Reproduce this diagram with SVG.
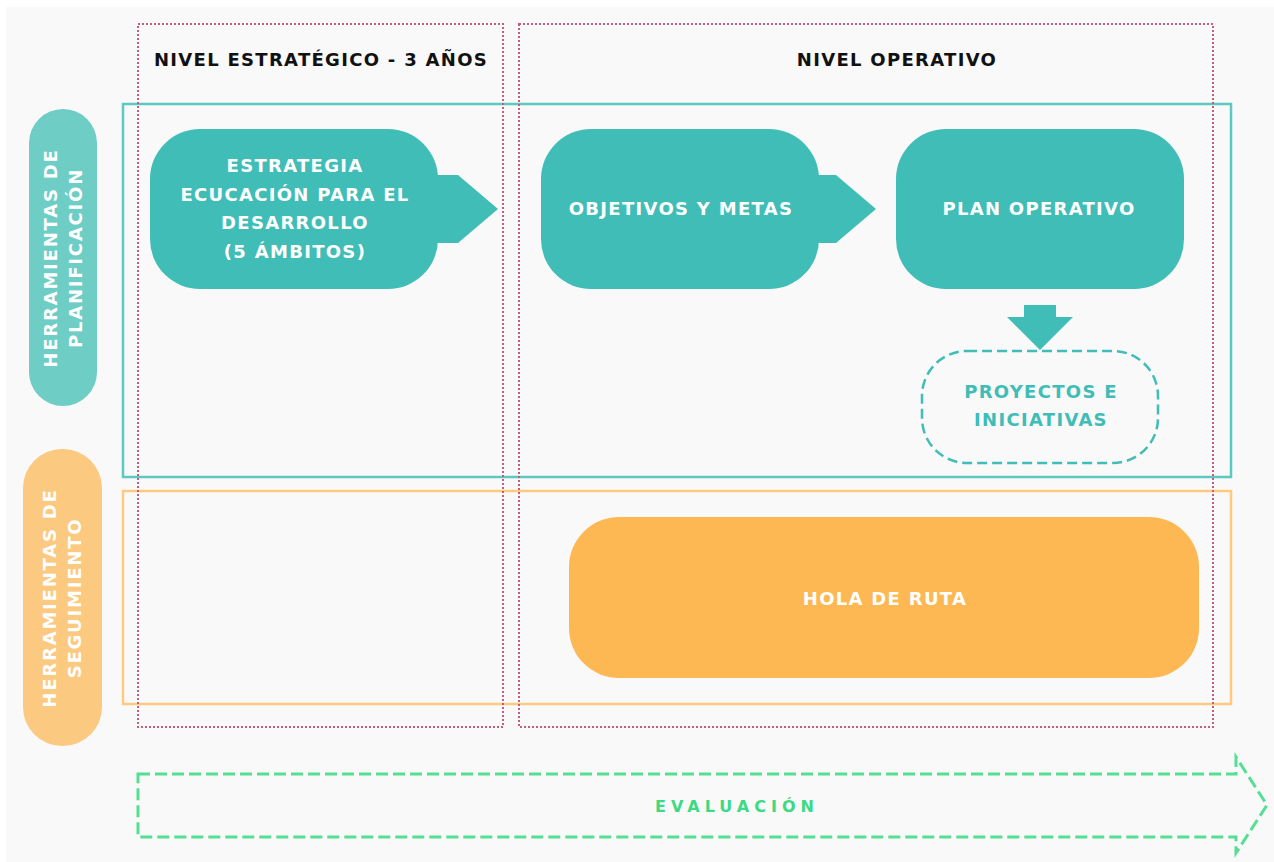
<svg xmlns="http://www.w3.org/2000/svg" width="1274" height="862" viewBox="0 0 1274 862">
<style>
.hdr{font-family:"DejaVu Sans","Liberation Sans",sans-serif;font-weight:700;font-size:18px;fill:#111;text-anchor:middle;letter-spacing:1.3px}
.wt{font-family:"DejaVu Sans","Liberation Sans",sans-serif;font-weight:700;font-size:18px;fill:#ffffff;text-anchor:middle;letter-spacing:1.3px}
.pt{font-family:"DejaVu Sans","Liberation Sans",sans-serif;font-weight:700;font-size:18px;fill:#ffffff;text-anchor:middle;letter-spacing:1.8px}
.teal{fill:#40bdb7}
.dot{fill:none;stroke:#c25f7c;stroke-width:2;stroke-dasharray:2 2}
</style>
<rect x="0" y="0" width="1274" height="862" fill="#ffffff"/>
<rect x="6" y="7" width="1268" height="855" fill="#f9f9f9"/>

<g id="frames">
<rect x="123" y="104" width="1108" height="373" fill="none" stroke="#5ec9c1" stroke-width="2.5"/>
<rect x="123" y="491" width="1108" height="213" fill="none" stroke="#fdca80" stroke-width="2.5"/>
<rect class="dot" x="138" y="24" width="365" height="703"/>
<rect class="dot" x="519" y="24" width="694" height="703"/>
</g>

<g id="headers">
<text class="hdr" x="321" y="66">NIVEL ESTRATÉGICO - 3 AÑOS</text>
<text class="hdr" x="897" y="66">NIVEL OPERATIVO</text>
</g>

<g id="pill-planificacion">
<rect x="29" y="109" width="68" height="297" rx="34" fill="#6ecdc5"/>
<text class="pt" transform="translate(63,258) rotate(-90)"><tspan x="0" y="-6">HERRAMIENTAS DE</tspan><tspan x="0" y="19">PLANIFICACIÓN</tspan></text>
</g>

<g id="pill-seguimiento">
<rect x="23" y="449" width="79" height="297" rx="39" fill="#fbc97f"/>
<text class="pt" transform="translate(62,598) rotate(-90)"><tspan x="0" y="-6">HERRAMIENTAS DE</tspan><tspan x="0" y="19">SEGUIMIENTO</tspan></text>
</g>

<g id="estrategia">
<rect class="teal" x="150" y="129" width="288" height="160" rx="50"/>
<polygon class="teal" points="436,175 458,175 498,209 458,243 436,243"/>
<text class="wt" x="295" y="172">ESTRATEGIA</text>
<text class="wt" x="295" y="201">ECUCACIÓN PARA EL</text>
<text class="wt" x="295" y="229">DESARROLLO</text>
<text class="wt" x="295" y="258">(5 ÁMBITOS)</text>
</g>

<g id="objetivos">
<rect class="teal" x="541" y="129" width="278" height="160" rx="50"/>
<polygon class="teal" points="817,175 836,175 876,209 836,243 817,243"/>
<text class="wt" x="681" y="215">OBJETIVOS Y METAS</text>
</g>

<g id="plan-operativo">
<rect class="teal" x="896" y="129" width="288" height="160" rx="50"/>
<text class="wt" x="1039" y="215">PLAN OPERATIVO</text>
</g>

<g id="connectors">
<polygon class="teal" points="1024,305 1056,305 1056,317 1073,317 1040,350 1007,317 1024,317"/>
</g>

<g id="proyectos">
<rect x="922" y="351" width="236" height="112" rx="45" fill="none" stroke="#40bdb7" stroke-width="2.5" stroke-dasharray="10 5"/>
<text class="wt" x="1041" y="398" style="fill:#40bdb7">PROYECTOS E</text>
<text class="wt" x="1041" y="426" style="fill:#40bdb7">INICIATIVAS</text>
</g>

<g id="hoja-de-ruta">
<rect x="569" y="517" width="630" height="161" rx="50" fill="#fdb853"/>
<text class="wt" x="885" y="605">HOLA DE RUTA</text>
</g>

<g id="evaluacion">
<path d="M138,774 L1236,774 L1236,757 L1267,805 L1236,853 L1236,837 L138,837 Z" fill="none" stroke="#55df93" stroke-width="3" stroke-dasharray="12 5"/>
<text x="737" y="812" font-family="'DejaVu Sans','Liberation Sans',sans-serif" font-weight="700" font-size="16" fill="#3ed982" text-anchor="middle" letter-spacing="5">EVALUACIÓN</text>
</g>
</svg>
